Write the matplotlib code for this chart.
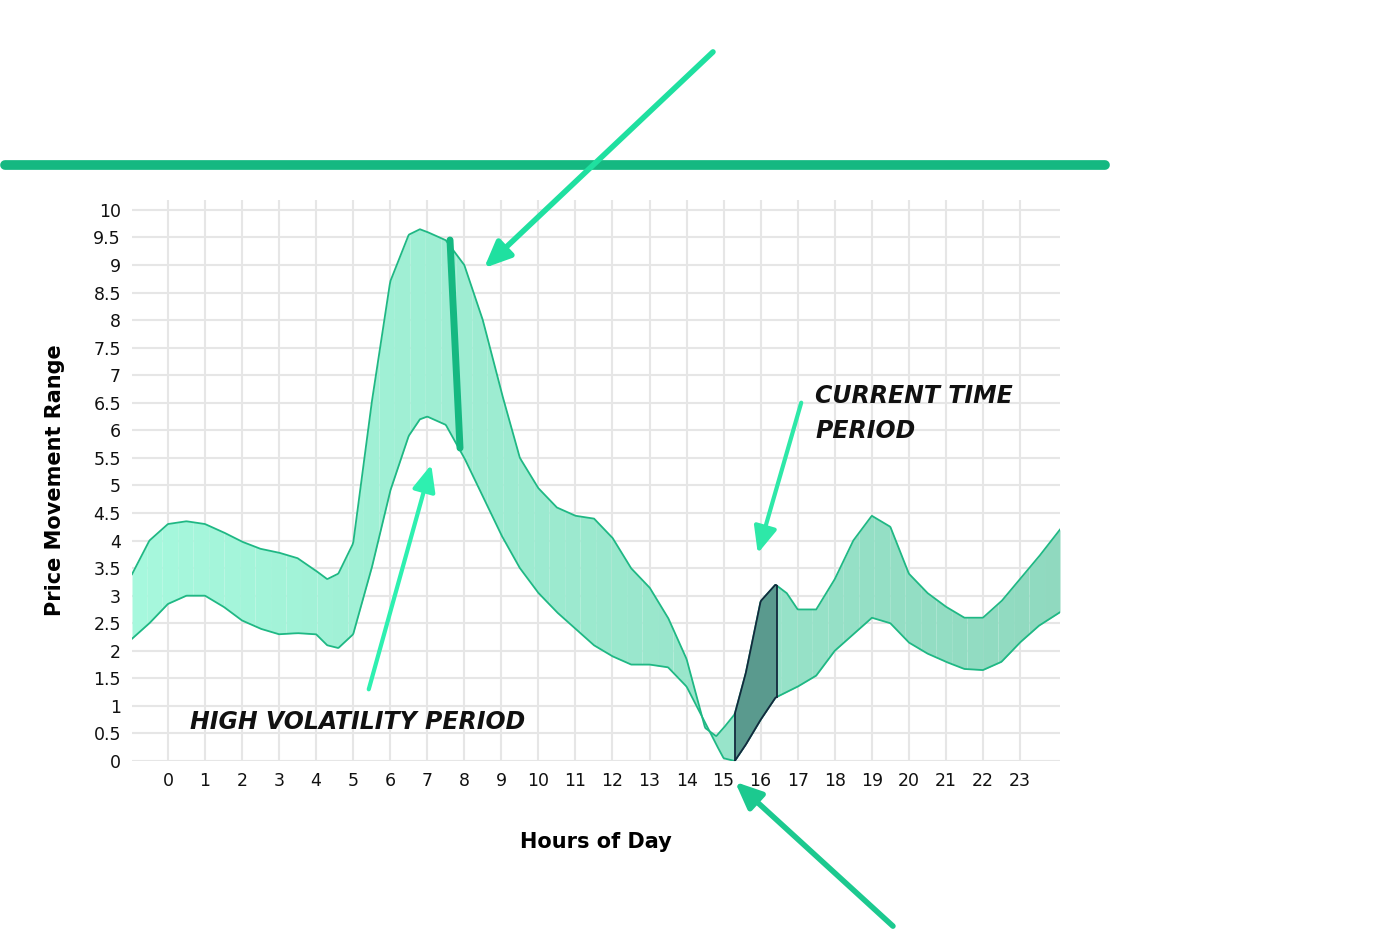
import numpy as np
import matplotlib
matplotlib.use("Agg")
import matplotlib.pyplot as plt
from matplotlib.colors import to_rgb

hours = [-1, -0.5, 0, 0.5, 1, 1.5, 2, 2.5, 3, 3.5, 4, 4.3, 4.6, 5, 5.5, 6, 6.5, 6.8, 7, 7.5, 8, 8.5, 9, 9.5, 10, 10.5, 11,
         11.5, 12, 12.5, 13, 13.5, 14, 14.5, 14.8, 15, 15.3, 15.6, 16, 16.4, 16.7, 17, 17.5, 18, 18.5, 19, 19.5, 20,
         20.5, 21, 21.5, 22, 22.5, 23, 23.5, 24.08]
upper = [3.35, 4.0, 4.3, 4.35, 4.3, 4.15, 3.98, 3.85, 3.78, 3.68, 3.45, 3.3, 3.4, 3.95, 6.5, 8.7, 9.55, 9.65, 9.6, 9.45, 9.0, 8.0,
         6.7, 5.5, 4.95, 4.6, 4.45, 4.4, 4.05, 3.5, 3.15, 2.6, 1.85, 0.6, 0.45, 0.6, 0.85, 1.6, 2.9, 3.2, 3.05, 2.75, 2.75,
         3.3, 4.0, 4.45, 4.25, 3.4, 3.05, 2.8, 2.6, 2.6, 2.9, 3.3, 3.7, 4.2]
lower = [2.2, 2.5, 2.85, 3.0, 3.0, 2.8, 2.55, 2.4, 2.3, 2.32, 2.3, 2.1, 2.05, 2.3, 3.5, 4.9, 5.9, 6.2, 6.25, 6.1, 5.5, 4.8,
         4.1, 3.5, 3.05, 2.7, 2.4, 2.1, 1.9, 1.75, 1.75, 1.7, 1.35, 0.7, 0.3, 0.05, 0.0, 0.3, 0.75, 1.15, 1.25, 1.35, 1.55,
         2.0, 2.3, 2.6, 2.5, 2.15, 1.95, 1.8, 1.67, 1.65, 1.8, 2.15, 2.45, 2.7]
current_start, current_end = 15.3, 16.45
x_ticks = list(range(24))
y_ticks = [i * 0.5 for i in range(21)]

fig = plt.figure(figsize=(14, 9.51), dpi=100)
W, H = 1400, 951
ax = fig.add_axes([132 / W, 1 - 761 / H, (1060 - 132) / W, (761 - 200) / H])
ax.set_xlim(-0.97, 24.08)
ax.set_ylim(0, 10.18)

xs = np.linspace(-0.97, 24.08, 1200)
up = np.interp(xs, hours, upper)
lo = np.interp(xs, hours, lower)
c1, c2 = np.array(to_rgb("#a6f8dd")), np.array(to_rgb("#90d9bf"))
n = 60
edges = np.linspace(0, len(xs) - 1, n + 1).astype(int)
for i in range(n):
    a, b = edges[i], edges[i + 1] + 1
    t = i / (n - 1)
    ax.fill_between(xs[a:b], lo[a:b], up[a:b], color=c1 * (1 - t) + c2 * t, lw=0, zorder=2)
ax.plot(xs, up, color="#1fb884", lw=1.3, zorder=3)
ax.plot(xs, lo, color="#1fb884", lw=1.3, zorder=3)

m = (xs >= current_start) & (xs <= current_end)
ax.fill_between(xs[m], lo[m], up[m], color="#5a9a8e", lw=0, zorder=4)
ax.plot(xs[m], up[m], color="#13293d", lw=1.3, zorder=5)
ax.plot(xs[m], lo[m], color="#13293d", lw=1.3, zorder=5)
for xv in (current_start, current_end):
    ax.plot([xv, xv], [np.interp(xv, hours, lower), np.interp(xv, hours, upper)], color="#13293d", lw=1.3, zorder=5)

ax.set_xticks(x_ticks)
ax.set_yticks(y_ticks)
ax.set_yticklabels([f"{v:g}" for v in y_ticks])
ax.grid(True, color="#e6e6e6", lw=1.5, zorder=0)
for s in ax.spines.values():
    s.set_visible(False)
ax.tick_params(length=0, labelsize=12.5, colors="#111111", pad=8)
ax.set_xlabel("Hours of Day", fontsize=15, fontweight="bold", labelpad=30)
ax.set_ylabel("Price Movement Range", fontsize=15, fontweight="bold", labelpad=20)

ov = fig.add_axes([0, 0, 1, 1], facecolor="none")
ov.set_xlim(0, W)
ov.set_ylim(H, 0)
ov.axis("off")
g = "#15b881"
ov.plot([5, 1105], [165, 165], color=g, lw=7, solid_capstyle="round")

def arrow(x0, y0, x1, y1, col, lw=4):
    ov.annotate("", xy=(x1, y1), xytext=(x0, y0),
                arrowprops=dict(arrowstyle="-|>,head_length=1.6,head_width=0.7", color=col, lw=lw))

arrow(715, 50, 482, 270, "#1fe0a0")
ov.plot([450, 460], [240, 448], color=g, lw=5, solid_capstyle="round")
arrow(368, 692, 432, 462, "#2ef0b0", 3)
arrow(802, 400, 757, 556, "#2ee8a8", 3)
arrow(895, 928, 733, 780, "#1cc98f", 4)

hand = dict(fontsize=17, fontweight="heavy", fontstyle="italic", color="#111111", family="DejaVu Sans")
ov.text(190, 722, "HIGH VOLATILITY PERIOD", va="center", **hand)
ov.text(815, 396, "CURRENT TIME", va="center", **hand)
ov.text(815, 431, "PERIOD", va="center", **hand)

fig.savefig("out.png", dpi=100, facecolor="white")
